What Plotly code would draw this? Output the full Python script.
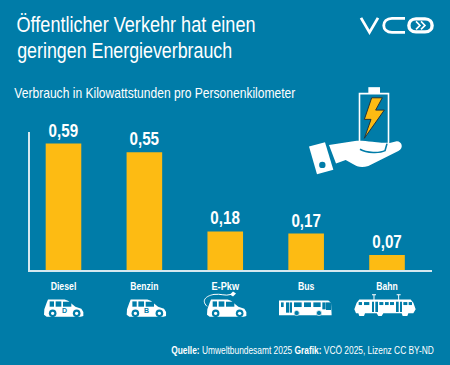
import json
import plotly.graph_objects as go

categories = ["Diesel", "Benzin", "E-Pkw", "Bus", "Bahn"]
values = [0.59, 0.55, 0.18, 0.17, 0.07]
value_labels = ["0,59", "0,55", "0,18", "0,17", "0,07"]

W, H = 450, 365
L, R, T, B = 30, 432, 132, 270.5
BG = "#007CA8"
YEL = "#FDBB13"
WHITE = "#FFFFFF"
AXIS = "#D5E8EF"
FONT = "Liberation Sans"

TITLE_1 = "Öffentlicher Verkehr hat einen"
TITLE_2 = "geringen Energieverbrauch"
SUB = "Verbrauch in Kilowattstunden pro Personenkilometer"
SRC = "<b>Quelle:</b> Umweltbundesamt 2025 <b>Grafik:</b> VCÖ 2025, Lizenz CC BY-ND"
SRC_PLAIN = "Quelle: Umweltbundesamt 2025 Grafik: VCÖ 2025, Lizenz CC BY-ND"

# Rendered widths (px): the reference uses a condensed face, which is not installed.
text_widths = {TITLE_1: 239, TITLE_2: 215, SUB: 281, SRC_PLAIN: 263,
               "Diesel": 25.7, "Benzin": 28, "E-Pkw": 27.5, "Bus": 16.5, "Bahn": 21.5,
               "0,59": 29.5, "0,55": 29.5, "0,18": 29.5, "0,17": 29.5, "0,07": 29.5}


def px(x):
    return (x - L) / (R - L)


def py(y):
    return (B - y) / (B - T)


def path(cmds):
    out = []
    for c in cmds:
        if c[0] == "Z":
            out.append("Z")
            continue
        nums = c[1:]
        pts = [f"{px(nums[i]):.5f},{py(nums[i + 1]):.5f}" for i in range(0, len(nums), 2)]
        out.append(c[0] + " ".join(pts))
    return " ".join(out)


shapes = []


def poly(pts, fill=WHITE, line=None, lw=0):
    cmds = [("M",) + tuple(pts[0])] + [("L",) + tuple(p) for p in pts[1:]] + [("Z",)]
    shapes.append(dict(type="path", xref="paper", yref="paper", path=path(cmds), fillcolor=fill,
                       line=dict(color=line or fill, width=lw), layer="above"))


def stroke(cmds, color=WHITE, lw=1.5):
    shapes.append(dict(type="path", xref="paper", yref="paper", path=path(cmds),
                       line=dict(color=color, width=lw), layer="above"))


def rect(x0, y0, x1, y1, fill=WHITE, line=None, lw=0):
    poly([(x0, y0), (x1, y0), (x1, y1), (x0, y1)], fill, line, lw)


def circle(cx, cy, r, fill=WHITE, line=None, lw=0):
    shapes.append(dict(type="circle", xref="paper", yref="paper", x0=px(cx - r), x1=px(cx + r),
                       y0=py(cy + r), y1=py(cy - r), fillcolor=fill,
                       line=dict(color=line or fill, width=lw), layer="above"))


def car(ox, oy):
    P = lambda a, b: (ox + a / 3, oy + b / 3)
    poly([P(12, 0), P(62, 0), P(72, 4), P(94, 22), P(112, 28), P(118, 38), P(118, 50), P(110, 52),
          P(8, 52), P(0, 46), P(1, 30), P(8, 10)])
    for w in [(17, 6, 30, 22), (35, 6, 52, 22), (57, 7, 82, 22)]:
        rect(*P(w[0], w[1]), *P(w[2], w[3]), fill=BG)
    for cx in (26, 98):
        circle(*P(cx, 42), 3.8, fill=BG)
        circle(*P(cx, 42), 1.7, fill=WHITE)


def bus():
    ox, oy = 275, 290
    P = lambda a, b: (ox + a / 3, oy + b / 3)
    poly([P(12, 33), P(160, 33), P(168, 40), P(170, 78), P(12, 78)])
    for w in [(18, 39, 26, 53), (33, 39, 42, 70), (44, 39, 51, 70), (57, 39, 80, 53), (87, 39, 108, 53),
              (115, 39, 137, 53), (142, 39, 152, 60), (153, 39, 168, 62)]:
        rect(*P(w[0], w[1]), *P(w[2], w[3]), fill=BG)
    for cx in (65, 132):
        circle(*P(cx, 71), 2.6, fill=BG, line=AXIS, lw=0.8)


def tram():
    ox, oy = 350, 290
    P = lambda a, b: (ox + a / 3, oy + b / 3)
    poly([P(28, 30), P(182, 30), P(190, 40), P(197, 60), P(190, 72), P(175, 72), P(172, 80), P(158, 80),
          P(155, 72), P(100, 72), P(95, 80), P(85, 80), P(80, 72), P(45, 72), P(42, 80), P(28, 80),
          P(25, 72), P(18, 72), P(13, 60), P(20, 40)])
    for w in [(26, 38, 36, 47), (42, 38, 58, 47), (88, 38, 100, 47), (105, 38, 116, 47), (120, 38, 132, 47),
              (160, 38, 172, 47), (176, 38, 186, 47)]:
        rect(*P(w[0], w[1]), *P(w[2], w[3]), fill=BG)
    for d in [(66, 72), (76, 84), (138, 146), (150, 156)]:
        rect(*P(d[0], 37), *P(d[1], 68), fill=BG)
    for cx in (72, 146):
        stroke([("M",) + P(cx, 16), ("L",) + P(cx, 32)], lw=1)
        stroke([("M",) + P(cx - 6, 16), ("L",) + P(cx + 6, 16)], lw=1)


def hand():
    ox, oy = 305, 85
    P = lambda a, b: (ox + a / 3, oy + b / 3)
    rect(*P(190, 6), *P(225, 24))
    shapes.append(dict(type="rect", xref="paper", yref="paper", x0=px(359.5), x1=px(388.5), y0=py(143.5), y1=py(93.5),
                       line=dict(color=WHITE, width=1.6), fillcolor=BG, layer="above"))
    poly([P(200, 38), P(232, 38), P(212, 75), P(238, 75), P(178, 160), P(198, 103), P(178, 103)],
         fill=YEL, line="#23343C", lw=1)
    shapes.append(dict(type="path", xref="paper", yref="paper", line=dict(width=0), fillcolor=WHITE, layer="above",
                       path=path([("M",) + P(72, 180), ("L",) + P(150, 168), ("C",) + P(170, 165) + P(215, 172) + P(245, 176),
                                  ("L",) + P(275, 169), ("C",) + P(290, 168) + P(298, 190) + P(280, 198),
                                  ("L",) + P(190, 243), ("C",) + P(170, 250) + P(155, 245) + P(145, 238),
                                  ("L",) + P(122, 225), ("L",) + P(93, 236), ("Z",)])))
    stroke([("M",) + P(165, 193), ("C",) + P(185, 205) + P(225, 205) + P(240, 197), ("L",) + P(246, 176)], color=BG, lw=1.6)
    poly([P(12, 185), P(60, 172), P(85, 255), P(36, 268)])
    circle(*P(52, 240), 3.2, fill=BG)


def logo():
    stroke([("M", 361, 17.5), ("L", 369.5, 32), ("L", 378, 17.5)], lw=2.8)
    stroke([("M", 405, 18), ("L", 392, 18), ("C", 381, 18, 381, 32, 392, 32), ("L", 405, 32)], lw=2.8)
    shapes.append(dict(type="path", xref="paper", yref="paper", fillcolor=BG, line=dict(color=WHITE, width=3.4),
                       layer="above",
                       path=path([("M", 416, 18.5), ("L", 425, 18.5), ("C", 434.5, 18.5, 434.5, 31.5, 425, 31.5),
                                  ("L", 416, 31.5), ("C", 406.5, 31.5, 406.5, 18.5, 416, 18.5), ("Z",)])))
    stroke([("M", 416, 21), ("L", 420, 25), ("L", 416, 29)], lw=1.6)
    stroke([("M", 421, 21), ("L", 425, 25), ("L", 421, 29)], lw=1.6)


car(44, 300)
car(126.7, 300)
car(207, 300)
stroke([("M", 207, 307), ("C", 200, 300, 208, 296, 214, 295), ("C", 221, 294, 225, 297, 231, 295)], lw=1)
poly([(230, 295), (233, 292), (236, 294), (233, 297)])
bus()
tram()
hand()
logo()


def note(text, x, y, size, color=WHITE):
    # x is the horizontal centre of the text in the reference
    return dict(text=text, x=px(x), y=py(y), xref="paper", yref="paper", xanchor="center", yanchor="middle",
                showarrow=False, font=dict(family=FONT, size=size, color=color))


annotations = [
    note(TITLE_1, 136, 25, 21.5),
    note(TITLE_2, 124, 51, 21.5),
    note(SUB, 154.5, 93, 14.5),
    note(SRC, 302.3, 351, 11),
    note("<b>D</b>", 64, 311, 7, BG),
    note("<b>B</b>", 146.5, 311, 7, BG),
]

fig = go.Figure(go.Bar(
    x=categories, y=values, text=value_labels, textposition="outside", cliponaxis=False,
    textfont=dict(family=FONT, size=17.5, color=WHITE, weight=700),
    marker=dict(color=YEL, line=dict(width=0)), width=0.44,
))
fig.update_layout(
    width=W, height=H, paper_bgcolor=BG, plot_bgcolor=BG, showlegend=False,
    margin=dict(l=L, r=W - R, t=T, b=H - B, pad=0),
    shapes=shapes, annotations=annotations,
    xaxis=dict(type="category", categoryorder="array", categoryarray=categories,
               range=[-0.414, 4.556], showline=True, linecolor=AXIS, linewidth=1.5, ticks="",
               showgrid=False, zeroline=False, ticklabelstandoff=5,
               tickfont=dict(family=FONT, size=11, color=WHITE, weight=700)),
    yaxis=dict(range=[0, 0.644], showline=True, linecolor=AXIS, linewidth=1.5, ticks="", showticklabels=False,
               showgrid=False, zeroline=False),
)
script = (
    "document.body.style.margin='0';document.body.style.background='" + BG + "';"
    "var tw=" + json.dumps(text_widths) + ";"
    "document.querySelectorAll('svg text').forEach(function(t){var w=tw[t.textContent];if(!w)return;"
    "if(t.querySelector('tspan')){var k=w/t.getComputedTextLength();var c=parseFloat(t.getAttribute('x'));"
    "t.setAttribute('transform','translate('+c+',0) scale('+k+',1) translate('+(-c)+',0)');}"
    "else{t.setAttribute('textLength',w);t.setAttribute('lengthAdjust','spacingAndGlyphs');}});"
)
fig.write_html("out.html", config=dict(displayModeBar=False), post_script=script)
